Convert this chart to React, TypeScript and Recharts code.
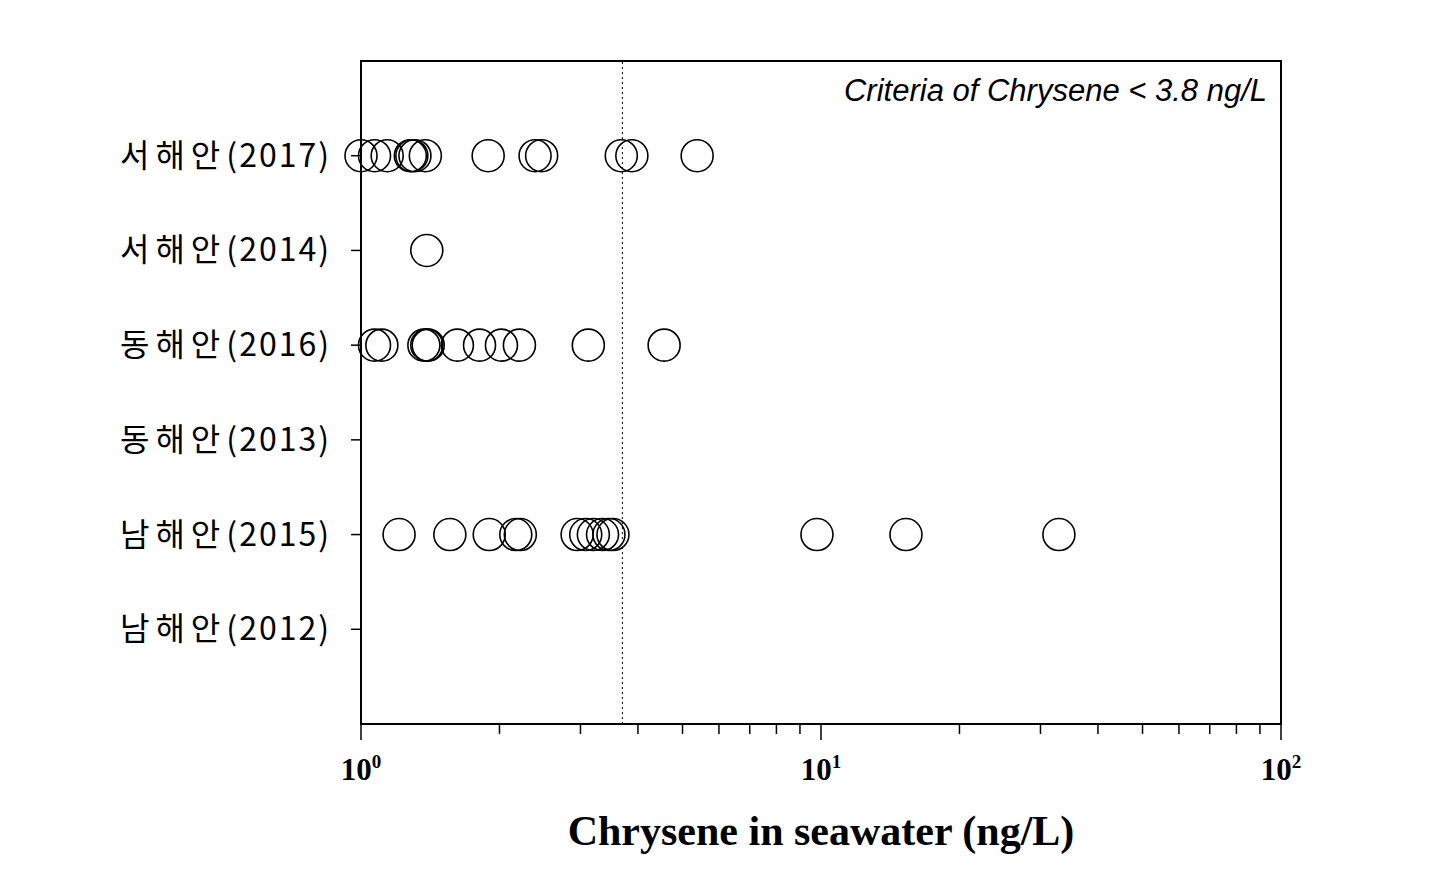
import React from 'react'
import { ScatterChart, Scatter, XAxis, YAxis, ReferenceLine, ReferenceArea } from 'recharts'

// row labels, bottom (1) to top (6)
const rowLabels = ['남해안(2012)', '남해안(2015)', '동해안(2013)', '동해안(2016)', '서해안(2014)', '서해안(2017)']

// concentrations (ng/L)
const south2012: number[] = []
const south2015 = [1.21, 1.56, 1.9, 2.17, 2.22, 2.95, 3.08, 3.2, 3.35, 3.46, 3.53, 9.8, 15.3, 32.9]
const east2013: number[] = []
const east2016 = [1.07, 1.11, 1.37, 1.39, 1.4, 1.62, 1.81, 2.02, 2.21, 3.12, 4.56]
const west2014 = [1.39]
const west2017 = [1.0, 1.07, 1.14, 1.28, 1.29, 1.31, 1.38, 1.89, 2.39, 2.47, 3.68, 3.88, 5.38]

const criteria = 3.7
const majorTicks = [1, 10, 100]
const minorTicks = [2, 3, 4, 5, 6, 7, 8, 9, 20, 30, 40, 50, 60, 70, 80, 90]

const rows = [south2012, south2015, east2013, east2016, west2014, west2017]
const points = rows.flatMap((vals, i) => vals.map((v) => ({ x: v, y: i + 1 })))

const Ring = (props: any) => {
  const { cx, cy } = props
  if (cx == null || cy == null) return null
  return <circle cx={cx} cy={cy} r={16} fill="none" stroke="#000" strokeWidth={1.6} />
}

const XTick = (props: any) => {
  const { x, y, payload } = props
  const major = majorTicks.includes(payload.value)
  const exp = Math.round(Math.log10(payload.value))
  return (
    <g>
      <line x1={x} x2={x} y1={y} y2={y + (major ? 16 : 10)} stroke="#000" strokeWidth={1.5} />
      {major && (
        <text
          x={x}
          y={y + 56}
          textAnchor="middle"
          fontFamily="'Liberation Serif', 'Times New Roman', serif"
          fontWeight="bold"
          fontSize={31}
          fill="#000"
        >
          10
          <tspan dy={-12} fontSize={19}>{exp}</tspan>
        </text>
      )}
    </g>
  )
}

// korean part spaced wide, year part tighter
const YTick = (props: any) => {
  const { x, y, payload } = props
  const label = rowLabels[payload.value - 1] ?? ''
  const cut = label.indexOf('(')
  return (
    <text
      x={x}
      y={y}
      dy={11}
      textAnchor="end"
      fontFamily="'Noto Sans CJK KR', sans-serif"
      fontSize={32}
      fill="#000"
    >
      <tspan letterSpacing={6}>{label.slice(0, cut)}</tspan>
      <tspan letterSpacing={2}>{label.slice(cut)}</tspan>
    </text>
  )
}

export default function App() {
  return (
    <div style={{ position: 'relative', width: 1420, height: 857 }}>
      <ScatterChart width={1420} height={857} margin={{ top: 53, right: 147, bottom: 81, left: 0 }}>
        <XAxis
          type="number"
          dataKey="x"
          scale="log"
          domain={[1, 100]}
          ticks={[...majorTicks, ...minorTicks]}
          interval={0}
          tick={<XTick />}
          tickLine={false}
          tickSize={0}
          tickMargin={0}
          axisLine={{ stroke: '#000', strokeWidth: 2 }}
          height={60}
        />
        <YAxis
          type="number"
          dataKey="y"
          domain={[0, 7]}
          ticks={[1, 2, 3, 4, 5, 6]}
          interval={0}
          width={353}
          tickSize={10}
          tickMargin={20}
          tickLine={{ stroke: '#000', strokeWidth: 1.5 }}
          axisLine={{ stroke: '#000', strokeWidth: 2 }}
          tick={<YTick />}
        />
        <ReferenceArea x1={1} x2={100} y1={0} y2={7} fill="none" stroke="#000" strokeWidth={2} ifOverflow="visible" />
        <ReferenceLine x={criteria} stroke="#000" strokeWidth={1} strokeDasharray="2 3" />
        <Scatter data={points} shape={<Ring />} isAnimationActive={false} />
      </ScatterChart>
      <div
        style={{
          position: 'absolute', left: 0, top: 65, width: 1259, textAlign: 'right',
          fontFamily: "'Liberation Sans', Arial, sans-serif", fontStyle: 'italic', fontSize: 31, color: '#000',
        }}
      >
        Criteria of Chrysene &lt; 3.8 ng/L
      </div>
      <div
        style={{
          position: 'absolute', left: 353, top: 799, width: 920, textAlign: 'center',
          fontFamily: "'Liberation Serif', 'Times New Roman', serif", fontWeight: 'bold', fontSize: 42, color: '#000',
        }}
      >
        Chrysene in seawater (ng/L)
      </div>
    </div>
  )
}
